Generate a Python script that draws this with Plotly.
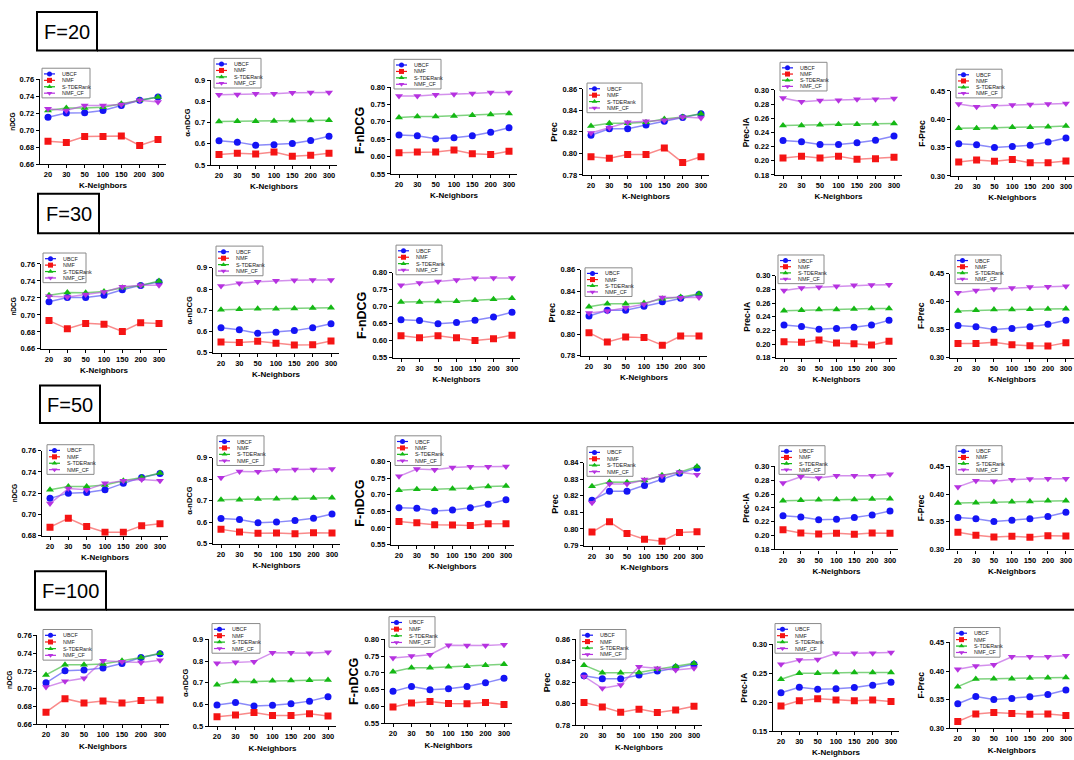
import plotly.graph_objects as go

# ---------------------------------------------------------------- data
K = ['20', '30', '50', '100', '150', '200', '300']
SERIES = ['UBCF', 'NMF', 'S-TDERank', 'NMF_CF']
METRICS = ['nDCG', 'α-nDCG', 'F-nDCG', 'Prec', 'Prec-IA', 'F-Prec']
ROW_TITLES = ['F=20', 'F=30', 'F=50', 'F=100']

# each block: [UBCF, NMF, S-TDERank, NMF_CF]
f20_ndcg = [[.715, .720, .7205, .723, .729, .735, .739],
            [.687, .6855, .6925, .6925, .693, .682, .689],
            [.723, .726, .726, .727, .731, .735, .739],
            [.725, .723, .729, .729, .730, .735, .733]]
f20_andcg = [[.615, .608, .593, .596, .602, .616, .636],
             [.550, .556, .552, .561, .542, .546, .556],
             [.705, .706, .706, .707, .709, .710, .711],
             [.831, .832, .836, .836, .840, .841, .842]]
f20_fndcg = [[.662, .660, .651, .654, .660, .670, .683],
             [.611, .613, .613, .619, .608, .606, .615],
             [.712, .715, .715, .717, .719, .721, .724],
             [.774, .774, .778, .779, .781, .784, .784]]
f20_prec = [[.817, .823, .823, .8265, .830, .8335, .837],
            [.797, .7955, .799, .799, .805, .7915, .797],
            [.8255, .828, .828, .829, .832, .834, .837],
            [.819, .824, .829, .830, .831, .834, .833]]
f20_precia = [[.2285, .227, .223, .223, .2255, .229, .235],
              [.204, .2065, .204, .2065, .202, .203, .205],
              [.250, .250, .251, .2515, .2515, .252, .2525],
              [.2885, .2835, .285, .2855, .287, .287, .288]]
f20_fprec = [[.357, .355, .350, .352, .354, .360, .367],
             [.3245, .328, .326, .329, .3235, .3235, .3265],
             [.384, .384, .385, .386, .386, .387, .388],
             [.427, .422, .424, .425, .426, .427, .428]]

f30_ndcg = [[.7155, .7205, .7205, .723, .7295, .7347, .7387],
            [.6933, .6836, .690, .689, .6805, .6906, .6899],
            [.7232, .7263, .7259, .7274, .732, .7347, .7398],
            [.722, .721, .724, .727, .733, .735, .735]]
f30_andcg = [[.6185, .609, .592, .597, .6045, .6185, .637],
             [.5508, .549, .554, .5446, .537, .5385, .5554],
             [.703, .705, .707, .708, .709, .711, .712],
             [.814, .828, .834, .839, .842, .843, .843]]
f30_fndcg = [[.6615, .6596, .650, .6538, .6606, .670, .6837],
             [.6144, .6087, .6144, .6087, .601, .6058, .6163],
             [.7144, .7144, .7154, .7163, .7192, .722, .725],
             [.7635, .770, .774, .7788, .7837, .7846, .7846]]
f30_prec = [[.8171, .8223, .8223, .826, .8303, .8336, .837],
            [.8015, .7929, .7975, .7969, .7898, .7984, .7984],
            [.8257, .8285, .8285, .829, .833, .8346, .8377],
            [.8199, .8217, .8248, .8279, .8343, .834, .8343]]
f30_precia = [[.228, .2256, .2218, .2227, .2246, .228, .2347],
              [.2035, .2026, .2059, .2016, .2006, .1987, .204],
              [.2486, .2496, .2505, .2505, .2515, .252, .252],
              [.2784, .2822, .2832, .2846, .2861, .2866, .287]]
f30_fprec = [[.3575, .3552, .3505, .3523, .3552, .360, .367],
             [.3255, .3255, .3279, .3231, .3214, .3208, .3267],
             [.3836, .3848, .386, .386, .3865, .3871, .3877],
             [.4162, .4203, .4227, .4245, .4263, .4269, .4275]]

f50_ndcg = [[.7151, .720, .7206, .7231, .7292, .7348, .7385],
            [.688, .6963, .6886, .6831, .6831, .6892, .6911],
            [.7231, .7262, .7262, .7277, .7317, .7348, .739],
            [.7102, .7243, .7231, .7292, .7317, .7329, .7317]]
f50_andcg = [[.6165, .6119, .5966, .5996, .6073, .618, .6379],
             [.5659, .5536, .5475, .549, .546, .5506, .549],
             [.7038, .7038, .7069, .7084, .710, .7115, .713],
             [.8065, .8356, .834, .8418, .8448, .8448, .8464]]
f50_fndcg = [[.6611, .6591, .6512, .6542, .6611, .671, .6849],
             [.6194, .6155, .6095, .6085, .6075, .6125, .6125],
             [.7137, .7167, .7167, .7177, .7206, .7246, .7266],
             [.7554, .7772, .7752, .7821, .7841, .7841, .7851]]
f50_prec = [[.8172, .8227, .8227, .8261, .8299, .8335, .8366],
            [.7981, .8043, .7973, .7938, .7926, .7979, .7983],
            [.8257, .8283, .8281, .8291, .8323, .8342, .8376],
            [.8158, .8271, .8271, .8297, .8319, .8342, .8327]]
f50_precia = [[.2286, .2271, .2229, .2238, .2262, .230, .2357],
              [.2086, .2038, .2024, .2033, .2019, .2038, .2033],
              [.2505, .251, .2519, .2524, .2524, .2529, .2533],
              [.2762, .2852, .2833, .2867, .2867, .2867, .2886]]
f50_fprec = [[.3577, .3554, .3506, .353, .3554, .3595, .3673],
             [.331, .3256, .3226, .3238, .322, .325, .3244],
             [.3839, .3845, .3857, .3863, .3869, .3881, .3881],
             [.4131, .4244, .4232, .4262, .4274, .428, .428]]

f100_ndcg = [[.7067, .7204, .7211, .7233, .7285, .7352, .7393],
             [.6737, .6889, .6841, .6863, .6841, .6867, .6874],
             [.7156, .727, .727, .7278, .7315, .7352, .740],
             [.7019, .7085, .7119, .7315, .7304, .7296, .7322]]
f100_andcg = [[.598, .610, .594, .597, .604, .616, .636],
              [.5443, .552, .564, .5504, .5504, .558, .5473],
              [.6908, .7061, .7061, .7092, .7107, .7122, .7137],
              [.790, .7947, .7977, .8389, .8389, .8359, .8405]]
f100_fndcg = [[.6453, .6599, .6502, .6531, .6599, .6706, .6842],
              [.5986, .6103, .6152, .6093, .6084, .6123, .6064],
              [.7037, .7154, .7154, .7183, .7202, .7232, .7261],
              [.7445, .7504, .7543, .7825, .7815, .7815, .7844]]
f100_prec = [[.8262, .8234, .8234, .8268, .8305, .8338, .8369],
             [.8012, .7972, .7923, .7951, .792, .7942, .7978],
             [.836, .8289, .8289, .8292, .8323, .8351, .8378],
             [.8255, .8145, .8175, .8345, .8332, .8314, .8332]]
f100_precia = [[.2164, .2261, .2227, .2233, .2256, .2296, .2347],
               [.1935, .2026, .2061, .2038, .2026, .2038, .2015],
               [.2399, .2502, .2502, .2513, .2513, .2513, .2513],
               [.2656, .2731, .2737, .2845, .2845, .2845, .2857]]
f100_fprec = [[.3429, .3555, .3504, .3521, .355, .359, .367],
              [.312, .3252, .3275, .3258, .3246, .3252, .3223],
              [.3727, .3859, .3865, .3865, .3876, .3882, .3888],
              [.403, .4088, .4111, .4248, .4248, .4248, .4265]]

PANELS = [
    [f20_ndcg, f20_andcg, f20_fndcg, f20_prec, f20_precia, f20_fprec],
    [f30_ndcg, f30_andcg, f30_fndcg, f30_prec, f30_precia, f30_fprec],
    [f50_ndcg, f50_andcg, f50_fndcg, f50_prec, f50_precia, f50_fprec],
    [f100_ndcg, f100_andcg, f100_fndcg, f100_prec, f100_precia, f100_fprec],
]

# y ranges (min, max, step) per row / column
Y_SCALES = [
    [(.66, .76, .02), (.5, .9, .1), (.55, .80, .05), (.78, .86, .02), (.18, .30, .02), (.30, .45, .05)],
    [(.66, .76, .02), (.5, .9, .1), (.55, .80, .05), (.78, .86, .02), (.18, .30, .02), (.30, .45, .05)],
    [(.68, .76, .02), (.5, .9, .1), (.55, .80, .05), (.79, .84, .01), (.18, .30, .02), (.30, .45, .05)],
    [(.66, .76, .02), (.5, .9, .1), (.55, .80, .05), (.78, .86, .02), (.15, .30, .05), (.30, .45, .05)],
]

# ---------------------------------------------------------------- style / layout
W, H = 1074, 760
COLORS = ['#1414f5', '#f51414', '#14b814', '#b632e0']
LINE_COLORS = ['rgba(60,60,245,0.6)', 'rgba(245,60,60,0.6)',
               'rgba(40,180,40,0.6)', 'rgba(182,70,224,0.6)']
SYMBOLS = ['circle', 'square', 'triangle-up', 'triangle-down']
FONT = 'Arial, Liberation Sans, sans-serif'
YTITLE_SIZE = [6.5, 7.5, 12.5, 9, 8.5, 8.5]

# panel frames in pixels: (x of first category, x of last category, y of top tick, y of bottom tick)
FRAMES = [
    [(48, 158, 76, 162), (219, 329, 77, 163), (399, 509, 84, 172),
     (591, 701, 86, 173), (783, 894, 87, 173), (959, 1070, 88, 174)],
    [(49, 159, 263, 349), (221, 331, 267, 353), (401, 512, 272, 358),
     (589, 699, 269, 356), (784, 889, 275, 358), (958, 1066, 273, 358)],
    [(50, 160, 452, 538), (221, 332, 459, 546), (399, 506, 463, 547),
     (592, 697, 464, 548), (783, 890, 468, 552), (958, 1067, 468, 552)],
    [(46, 160, 639, 729), (217, 328, 643, 731), (393, 504, 643, 728),
     (584, 694, 643, 730), (781, 891, 648, 736), (958, 1069, 646, 733)],
]
# legend boxes in pixels: (x0, y0, x1, y1)
LEGEND_BOXES = [
    [(42, 65, 90, 95), (214, 55, 261, 85), (394, 56, 441, 86),
     (587, 80, 642, 110), (780, 59, 827, 88), (956, 66, 1002, 95)],
    [(43, 252, 86, 282), (216, 245, 263, 275), (396, 244, 442, 274),
     (585, 267, 632, 296), (778, 254, 824, 283), (955, 254, 1001, 283)],
    [(47, 446, 94, 476), (217, 437, 264, 467), (395, 437, 441, 467),
     (587, 448, 633, 478), (779, 447, 825, 476), (956, 447, 1002, 476)],
    [(43, 633, 92, 664), (212, 627, 260, 657), (389, 620, 435, 651),
     (580, 633, 626, 663), (775, 627, 821, 657), (954, 631, 1000, 661)],
]
# row title boxes (x0, y0, x1, y1)
TITLE_BOXES = [(37, 8, 97, 47), (38, 192, 99, 232), (40, 386, 100, 424), (35, 574, 106, 613)]

X_LO, X_HI = -0.45, 6.45

fig = go.Figure()
layout = dict(
    width=W, height=H, margin=dict(l=0, r=0, t=0, b=0),
    paper_bgcolor='white', plot_bgcolor='rgba(0,0,0,0)',
    showlegend=False, font=dict(family=FONT, color='black'),
)

def px_x(v):
    return v / W

def px_y(v):
    return 1 - v / H

for r in range(4):
    for c in range(6):
        n = r * 6 + c + 1
        xs = 'x' if n == 1 else f'x{n}'
        ys = 'y' if n == 1 else f'y{n}'
        x20, x300, ytop, ybot = FRAMES[r][c]
        unit = (x300 - x20) / 6.0
        left = x20 + X_LO * unit
        right = x20 + X_HI * unit
        lo, hi, step = Y_SCALES[r][c]
        tickfmt = '.1f' if step >= 0.1 else '.2f'
        axfont = dict(family=FONT, size=7.5, color='black', weight='bold')
        layout['xaxis' if n == 1 else f'xaxis{n}'] = dict(
            domain=[max(0, px_x(left)), min(1, px_x(right))], anchor=ys,
            type='category', range=[X_LO, X_HI],
            showline=True, linecolor='black', linewidth=1.2,
            ticks='outside', ticklen=3, tickwidth=1, tickcolor='black',
            tickfont=axfont, showgrid=False, zeroline=False, fixedrange=True,
            title=dict(text='K-Neighbors', font=dict(family=FONT, size=8, weight='bold'),
                       standoff=4),
        )
        layout['yaxis' if n == 1 else f'yaxis{n}'] = dict(
            domain=[px_y(ybot), px_y(ytop)], anchor=xs,
            range=[lo, hi], dtick=step, tick0=lo, tickformat=tickfmt,
            showline=True, linecolor='black', linewidth=1.2,
            ticks='outside', ticklen=3, tickwidth=1, tickcolor='black',
            tickfont=axfont, showgrid=False, zeroline=False, fixedrange=True,
            title=dict(text=METRICS[c], font=dict(family=FONT, size=YTITLE_SIZE[c], weight='bold'),
                       standoff=3),
        )
        block = PANELS[r][c]
        for s in range(4):
            fig.add_trace(go.Scatter(
                x=K, y=block[s], xaxis=xs, yaxis=ys, mode='lines',
                line=dict(color=LINE_COLORS[s], width=1.5), hoverinfo='skip',
                name=SERIES[s]))
            fig.add_trace(go.Scatter(
                x=K, y=block[s], xaxis=xs, yaxis=ys, mode='markers',
                marker=dict(symbol=SYMBOLS[s], color=COLORS[s], size=7, line=dict(width=0)),
                name=SERIES[s]))

# overlay axes in pixel units for legend glyphs
LG = 25
layout[f'xaxis{LG}'] = dict(domain=[0, 1], range=[0, W], visible=False, fixedrange=True,
                           anchor=f'y{LG}')
layout[f'yaxis{LG}'] = dict(domain=[0, 1], range=[H, 0], visible=False, fixedrange=True,
                           anchor=f'x{LG}')

shapes = []
annotations = []
for r in range(4):
    for c in range(6):
        x0, y0, x1, y1 = LEGEND_BOXES[r][c]
        shapes.append(dict(type='rect', xref='paper', yref='paper', layer='below',
                           x0=px_x(x0), x1=px_x(x1), y0=px_y(y1), y1=px_y(y0),
                           line=dict(color='#8a8a8a', width=1), fillcolor='white'))
        rowh = (y1 - y0 - 4) / 4.0
        for s in range(4):
            yc = y0 + 2.5 + rowh * (s + 0.5)
            fig.add_trace(go.Scatter(
                x=[x0 + 2, x0 + 13], y=[yc, yc], xaxis=f'x{LG}', yaxis=f'y{LG}',
                mode='lines', line=dict(color=COLORS[s], width=1.2), hoverinfo='skip'))
            fig.add_trace(go.Scatter(
                x=[x0 + 7.5], y=[yc], xaxis=f'x{LG}', yaxis=f'y{LG}', mode='markers',
                marker=dict(symbol=SYMBOLS[s], color=COLORS[s], size=5, line=dict(width=0)),
                hoverinfo='skip'))
            annotations.append(dict(
                xref=f'x{LG}', yref=f'y{LG}', x=x0 + 18, y=yc, text=SERIES[s],
                showarrow=False, xanchor='left', yanchor='middle',
                font=dict(family=FONT, size=5.4, color='#222')))

for r in range(4):
    x0, y0, x1, y1 = TITLE_BOXES[r]
    shapes.append(dict(type='rect', xref='paper', yref='paper',
                       x0=px_x(x0), x1=px_x(x1), y0=px_y(y1), y1=px_y(y0),
                       line=dict(color='black', width=2), fillcolor='white', layer='below'))
    shapes.append(dict(type='line', xref='paper', yref='paper',
                       x0=px_x(x1), x1=1, y0=px_y(y1), y1=px_y(y1),
                       line=dict(color='black', width=2)))
    annotations.append(dict(
        xref='paper', yref='paper', x=px_x((x0 + x1) / 2), y=px_y((y0 + y1) / 2 + 1),
        text=ROW_TITLES[r], showarrow=False, xanchor='center', yanchor='middle',
        font=dict(family=FONT, size=20, color='black')))

layout['shapes'] = shapes
layout['annotations'] = annotations
fig.update_layout(**layout)
fig.write_html('out.html')
